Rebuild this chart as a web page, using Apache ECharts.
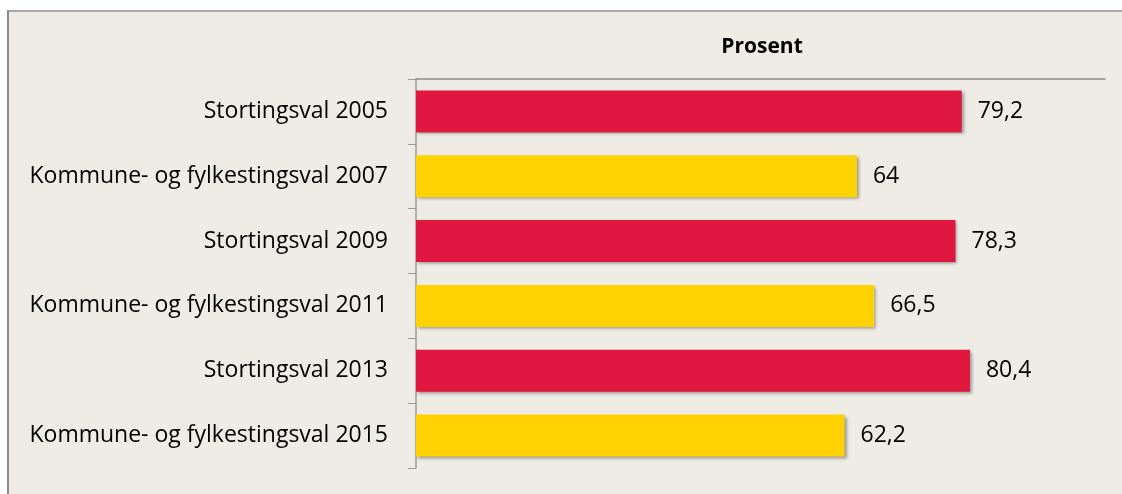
<!DOCTYPE html>
<html><head><meta charset="utf-8">
<script src="https://cdn.jsdelivr.net/npm/echarts@6/dist/echarts.min.js"></script>
<style>html,body{margin:0;padding:0;background:#fff}#c{width:1122px;height:494px}</style>
</head><body><div id="c"></div>
<script>
const categories = ['Stortingsval 2005','Kommune- og fylkestingsval 2007','Stortingsval 2009','Kommune- og fylkestingsval 2011','Stortingsval 2013','Kommune- og fylkestingsval 2015'];
const values = [79.2, 64, 78.3, 66.5, 80.4, 62.2];
const barColors = ['#e0183f','#ffd200','#e0183f','#ffd200','#e0183f','#ffd200'];
const axisTitle = 'Prosent';

const chart = echarts.init(document.getElementById('c'));
const FONT = 'Open Sans';
chart.setOption({
  backgroundColor: '#ffffff',
  animation: false,
  graphic: [
    {type:'rect', shape:{x:8,y:10,width:1114,height:484}, style:{fill:'#efece6'}, z:-10},
    {type:'line', shape:{x1:7,y1:11,x2:1122,y2:11}, style:{stroke:'#a8a8a8',lineWidth:2}, z:-9},
    {type:'line', shape:{x1:8,y1:10,x2:8,y2:494}, style:{stroke:'#8c8c8c',lineWidth:2}, z:-9}
  ],
  title: {text: axisTitle, left: 757, textAlign:'center', top: 32, textStyle:{fontFamily:FONT, fontSize:21, fontWeight:'bold', color:'#000'}},
  grid: {left:416, right:17, top:79, bottom:26, containLabel:false},
  xAxis: {type:'value', position:'top', min:0, max:100,
    axisLine:{show:true, lineStyle:{color:'#8a8a8a', width:1.5}},
    axisTick:{show:false}, axisLabel:{show:false}, splitLine:{show:false}},
  yAxis: {type:'category', inverse:true, data:categories,
    axisLine:{show:true, lineStyle:{color:'#9a9a9a', width:1.5}},
    axisTick:{show:true, length:8, lineStyle:{color:'#9a9a9a'}},
    axisLabel:{margin:28, fontFamily:FONT, fontSize:23, color:'#000'}},
  series: [{type:'bar', barWidth:42,
    data: values.map((v,i)=>({value:v, itemStyle:{color:barColors[i]}})),
    itemStyle:{shadowColor:'rgba(0,0,0,0.35)', shadowBlur:3, shadowOffsetX:2, shadowOffsetY:2},
    label:{show:true, position:'right', distance:16, fontFamily:FONT, fontSize:23, color:'#000',
      formatter: p => String(p.value).replace('.', ',')}
  }]
});
</script></body></html>
